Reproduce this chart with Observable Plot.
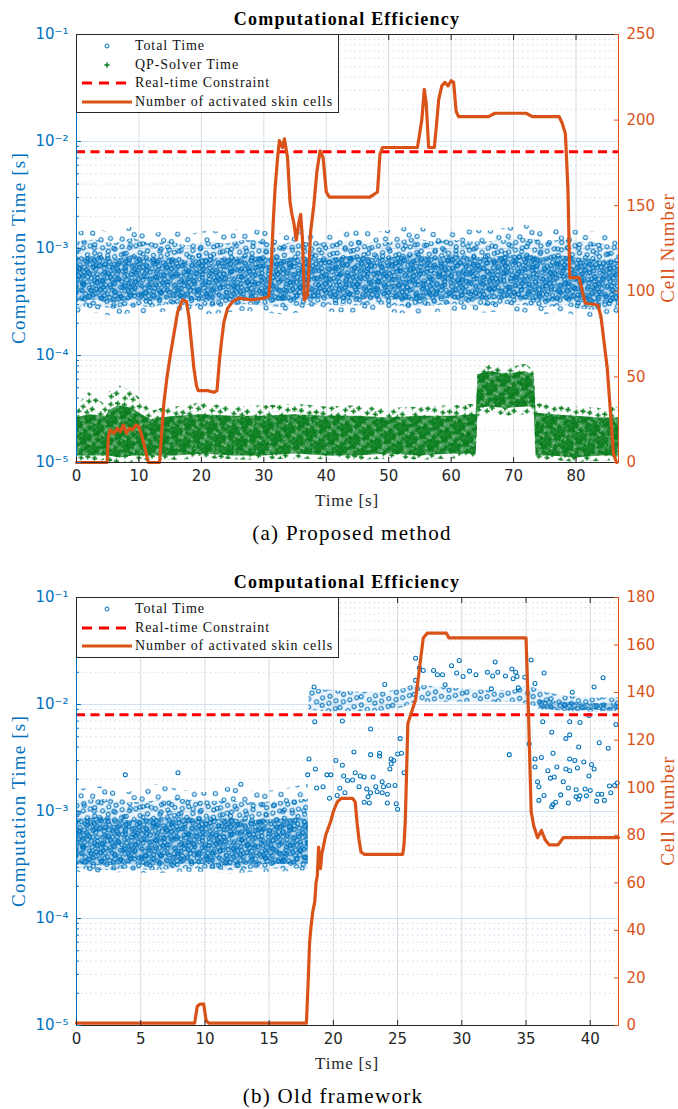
<!DOCTYPE html>
<html><head><meta charset="utf-8">
<script src="https://cdn.jsdelivr.net/npm/d3@7"></script>
<script src="https://cdn.jsdelivr.net/npm/@observablehq/plot@0.6"></script>
<style>
body{margin:0;background:#fff;}
#wrap{position:relative;width:678px;height:1109px;overflow:hidden;font-family:"Liberation Serif","Times New Roman",serif;}
.abs{position:absolute;white-space:nowrap;line-height:1;}
.legend{position:absolute;border:1px solid #262626;background:#fff;box-sizing:border-box;}
.row{position:absolute;left:0;height:18px;width:100%;}
.row svg{position:absolute;left:3px;top:0;}
.row span{position:absolute;left:58px;top:1px;font-size:14px;letter-spacing:0.9px;color:#111;line-height:16px;}
.panel{position:absolute;left:0;}
</style>
</head><body>
<svg width="0" height="0" style="position:absolute">
<defs>
<path id="gplus" d="M-2.6,-0.8h1.8v-1.8h1.6v1.8h1.8v1.6h-1.8v1.8h-1.6v-1.8h-1.8z"/>
<circle id="bc" r="2" fill="none" stroke="#0072BD" stroke-width="1.05"/>
<pattern id="bSparse" width="30" height="26" patternUnits="userSpaceOnUse" patternTransform="rotate(11)">
 <use href="#bc" x="4" y="5"/><use href="#bc" x="15.5" y="3.2"/><use href="#bc" x="25" y="8"/><use href="#bc" x="9" y="14"/><use href="#bc" x="20" y="17.5"/><use href="#bc" x="4.5" y="22.5"/><use href="#bc" x="26.5" y="22.8"/></pattern>
<pattern id="bMid" width="24" height="22" patternUnits="userSpaceOnUse" patternTransform="rotate(-27)">
 <rect width="24" height="22" fill="#0072BD" fill-opacity="0.08"/>
 <use href="#bc" x="3" y="3.4"/><use href="#bc" x="10.2" y="2.8"/><use href="#bc" x="17.5" y="4.6"/><use href="#bc" x="6.4" y="9.1"/><use href="#bc" x="13.4" y="10.3"/><use href="#bc" x="20.8" y="11.2"/><use href="#bc" x="2.9" y="15.4"/><use href="#bc" x="9.6" y="16.8"/><use href="#bc" x="16.7" y="17.9"/><use href="#bc" x="21.3" y="19.1"/></pattern>
<pattern id="bDense" width="22" height="20" patternUnits="userSpaceOnUse" patternTransform="rotate(37)">
 <rect width="22" height="20" fill="#0072BD" fill-opacity="0.22"/>
 <use href="#bc" x="3" y="3.2"/><use href="#bc" x="8.2" y="2.6"/><use href="#bc" x="13.8" y="4.1"/><use href="#bc" x="19.1" y="2.9"/><use href="#bc" x="5.9" y="7.4"/><use href="#bc" x="10.7" y="6.9"/><use href="#bc" x="16.6" y="8.3"/><use href="#bc" x="2.7" y="11.6"/><use href="#bc" x="8.3" y="12.8"/><use href="#bc" x="12.9" y="11.4"/><use href="#bc" x="19.2" y="12.7"/><use href="#bc" x="5.2" y="16.9"/><use href="#bc" x="10.9" y="17.3"/><use href="#bc" x="15.8" y="15.9"/><use href="#bc" x="18.7" y="17.4"/></pattern>
<pattern id="gSparse" width="22" height="19" patternUnits="userSpaceOnUse" patternTransform="rotate(8)">
 <g fill="#0A7D1E"><use href="#gplus" x="3.5" y="3.6"/><use href="#gplus" x="12" y="5"/><use href="#gplus" x="18.6" y="3.1"/><use href="#gplus" x="7" y="11"/><use href="#gplus" x="16.2" y="12.4"/><use href="#gplus" x="3.2" y="16"/><use href="#gplus" x="11.4" y="16.2"/></g></pattern>
<pattern id="gDense" width="16" height="15" patternUnits="userSpaceOnUse" patternTransform="rotate(-33)">
 <rect width="16" height="15" fill="#0A7D1E" fill-opacity="0.72"/>
 <g fill="#0A7D1E"><use href="#gplus" x="3" y="3"/><use href="#gplus" x="7.6" y="2.8"/><use href="#gplus" x="12.8" y="3.6"/><use href="#gplus" x="5" y="6.9"/><use href="#gplus" x="10" y="6.3"/><use href="#gplus" x="13.2" y="8.6"/><use href="#gplus" x="2.9" y="10.6"/><use href="#gplus" x="7.7" y="9.9"/><use href="#gplus" x="11.1" y="11.7"/><use href="#gplus" x="5.6" y="12.4"/></g>
 <g fill="#ffffff" fill-opacity="0.75"><rect x="9.3" y="1" width="1.2" height="1.2"/><rect x="1.2" y="7.5" width="1.1" height="1.1"/><rect x="14.2" y="12.6" width="1.2" height="1.2"/><rect x="8.4" y="13.6" width="1" height="1"/></g></pattern>
</defs></svg>
<div id="wrap"></div>
<script>
// ---------------- data: panel (a) Proposed method ----------------
const xTicksA = [0,10,20,30,40,50,60,70,80];
const xMaxA = 86.8;
const cellMaxA = 250;
const cellTicksA = [0,50,100,150,200,250];
const cellTimeA = [0,4.9,5.1,5.4,6,6.5,7,7.5,8,8.5,9,9.5,10,10.5,11,11.5,13.3,13.6,14,14.5,15,15.6,16.2,17,17.6,18,18.4,18.8,19.2,19.5,21,22,22.5,22.9,23.2,23.6,24.2,25,26,28,30,30.8,31.2,31.5,31.8,32.2,32.5,33,33.3,33.8,34.2,34.5,34.8,35.2,35.6,35.9,36.2,36.5,37,37.5,38,38.5,39,39.5,40,40.5,44,47,48.2,48.6,49,52,54.6,55.3,55.7,56,56.4,57.3,57.6,58,58.5,59,59.5,60,60.4,60.8,61.2,66,67,72,73,77.3,77.8,78.3,78.7,79,80.5,81,81.5,83.5,84,84.5,85,85.5,86,86.5];
const cellsA    = [0,0,15,19,17,20,18,22,17,20,19,22,21,15,8,0,0,15,35,50,62,75,88,95,94,85,70,55,45,42,42,41,42,60,70,82,90,94,96,95,96,97,115,140,160,178,188,184,189,178,152,145,140,130,140,145,130,95,98,135,150,170,182,178,158,155,155,155,158,180,184,184,184,200,218,210,184,184,195,212,220,222,220,223,222,205,202,202,204,204,202,202,198,192,160,108,108,100,93,92,85,70,55,30,5,0];
// Total Time cloud envelopes
const blueTimeA    = [0,3,6,9,12,15,18,21,24,27,30,33,36,39,42,45,48,51,54,57,60,63,66,69,72,75,78,81,84,86.8];
const blueOuterHiA = [1.4e-3,1.55e-3,1.35e-3,1.6e-3,1.35e-3,1.5e-3,1.35e-3,1.45e-3,1.4e-3,1.55e-3,1.45e-3,1.35e-3,1.5e-3,1.4e-3,1.45e-3,1.55e-3,1.4e-3,1.5e-3,1.65e-3,1.45e-3,1.55e-3,1.5e-3,1.45e-3,1.55e-3,1.65e-3,1.5e-3,1.55e-3,1.45e-3,1.4e-3,1.35e-3];
const blueOuterLoA = [2.4e-4,2.5e-4,2.3e-4,2.5e-4,2.4e-4,2.6e-4,2.5e-4,2.4e-4,2.5e-4,2.6e-4,2.5e-4,2.4e-4,2.5e-4,2.6e-4,2.5e-4,2.5e-4,2.6e-4,2.5e-4,2.4e-4,2.5e-4,2.6e-4,2.5e-4,2.5e-4,2.6e-4,2.5e-4,2.4e-4,2.5e-4,2.3e-4,2.2e-4,2.4e-4];
const blueCoreHiA  = [1.15e-3,1.2e-3,1.1e-3,1.25e-3,1.1e-3,1.15e-3,1.05e-3,1.15e-3,1.1e-3,1.2e-3,1.15e-3,1.1e-3,1.15e-3,1.1e-3,1.15e-3,1.2e-3,1.1e-3,1.15e-3,1.25e-3,1.15e-3,1.2e-3,1.15e-3,1.15e-3,1.2e-3,1.25e-3,1.15e-3,1.2e-3,1.15e-3,1.1e-3,1.05e-3];
const blueCoreLoA  = [2.8e-4,2.9e-4,2.7e-4,2.9e-4,2.8e-4,3.0e-4,2.9e-4,2.8e-4,2.9e-4,3.0e-4,2.9e-4,2.8e-4,2.9e-4,3.0e-4,2.9e-4,2.9e-4,3.0e-4,2.9e-4,2.8e-4,2.9e-4,3.0e-4,2.9e-4,2.9e-4,3.0e-4,2.9e-4,2.8e-4,2.9e-4,2.7e-4,2.6e-4,2.8e-4];
const blueInnerHiA = [8.0e-4,8.5e-4,7.8e-4,8.6e-4,8.0e-4,8.2e-4,7.6e-4,8.2e-4,8.0e-4,8.5e-4,8.2e-4,7.9e-4,8.3e-4,8.0e-4,8.2e-4,8.6e-4,8.0e-4,8.3e-4,8.8e-4,8.2e-4,8.6e-4,8.3e-4,8.2e-4,8.6e-4,8.8e-4,8.2e-4,8.5e-4,8.0e-4,7.8e-4,7.6e-4];
const blueInnerLoA = [3.2e-4,3.3e-4,3.1e-4,3.3e-4,3.2e-4,3.4e-4,3.3e-4,3.2e-4,3.3e-4,3.4e-4,3.3e-4,3.2e-4,3.3e-4,3.4e-4,3.3e-4,3.3e-4,3.4e-4,3.3e-4,3.2e-4,3.3e-4,3.4e-4,3.3e-4,3.3e-4,3.4e-4,3.3e-4,3.2e-4,3.3e-4,3.1e-4,3.0e-4,3.2e-4];
// QP-Solver Time cloud envelopes
const greenTimeA    = [0,2,4.8,5.2,7,9,10.5,12,13.5,16,20,25,30,35,40,45,50,55,60,64.0,64.3,66,69,72,73.3,73.6,76,80,84,86.8];
const greenOuterHiA = [3.3e-5,4.5e-5,3.4e-5,4.5e-5,5.2e-5,4.6e-5,3.8e-5,3.0e-5,3.2e-5,3.3e-5,3.6e-5,3.3e-5,3.4e-5,3.5e-5,3.3e-5,3.4e-5,3.2e-5,3.3e-5,3.4e-5,3.5e-5,7.5e-5,8.2e-5,7.6e-5,8.3e-5,7.2e-5,3.6e-5,3.4e-5,3.3e-5,3.2e-5,3.3e-5];
const greenOuterLoA = [1.05e-5,1.0e-5,1.05e-5,1.0e-5,1.0e-5,1.0e-5,1.0e-5,1.05e-5,1.05e-5,1.05e-5,1.08e-5,1.06e-5,1.05e-5,1.08e-5,1.06e-5,1.05e-5,1.07e-5,1.05e-5,1.08e-5,1.1e-5,2.7e-5,2.8e-5,2.7e-5,2.8e-5,2.8e-5,1.05e-5,1.05e-5,1.0e-5,1.02e-5,1.05e-5];
const greenCoreHiA  = [2.6e-5,2.8e-5,2.7e-5,3.1e-5,3.4e-5,3.2e-5,2.8e-5,2.5e-5,2.6e-5,2.7e-5,2.8e-5,2.7e-5,2.7e-5,2.8e-5,2.7e-5,2.7e-5,2.6e-5,2.7e-5,2.7e-5,2.8e-5,6.6e-5,7.1e-5,6.7e-5,7.1e-5,6.4e-5,2.9e-5,2.8e-5,2.7e-5,2.6e-5,2.6e-5];
const greenCoreLoA  = [1.15e-5,1.15e-5,1.15e-5,1.15e-5,1.1e-5,1.15e-5,1.15e-5,1.15e-5,1.15e-5,1.15e-5,1.2e-5,1.15e-5,1.15e-5,1.2e-5,1.15e-5,1.15e-5,1.2e-5,1.15e-5,1.2e-5,1.2e-5,3.2e-5,3.3e-5,3.2e-5,3.3e-5,3.3e-5,1.15e-5,1.15e-5,1.1e-5,1.15e-5,1.15e-5];

// ---------------- data: panel (b) Old framework ----------------
const xTicksB = [0,5,10,15,20,25,30,35,40];
const xMaxB = 42.2;
const cellMaxB = 180;
const cellTicksB = [0,20,40,60,80,100,120,140,160,180];
const cellTimeB = [0,9.2,9.4,9.6,9.9,10.1,10.3,17.9,18.05,18.15,18.25,18.4,18.55,18.65,18.75,18.85,19.0,19.1,19.4,19.8,20.0,20.3,20.6,21.5,21.7,21.85,22.0,22.15,22.4,25.4,25.5,25.6,25.8,26.4,26.7,27.0,27.3,28.8,29.0,35.0,35.2,35.4,35.6,35.9,36.2,36.5,36.8,37.5,37.9,42.2];
const cellsB    = [1,1,8,9,9,2,1,1,20,35,41,48,52,60,63,75,66,72,80,86,90,94,95.5,95.5,94,85,78,73,72,72,76,86,127,137,150,163,165,165,163,163,130,90,84,79,82,78,76,76,79,79];
const blueTimeB1    = [0,2,4,6,8,10,12,14,16,18.05];
const blueOuterHiB1 = [1.6e-3,1.7e-3,1.5e-3,1.8e-3,1.6e-3,1.5e-3,1.7e-3,1.5e-3,1.6e-3,1.8e-3];
const blueOuterLoB1 = [2.7e-4,2.6e-4,2.7e-4,2.6e-4,2.7e-4,2.7e-4,2.6e-4,2.7e-4,2.7e-4,2.8e-4];
const blueCoreHiB1  = [1.25e-3,1.3e-3,1.2e-3,1.25e-3,1.3e-3,1.25e-3,1.25e-3,1.2e-3,1.25e-3,1.3e-3];
const blueCoreLoB1  = [2.9e-4,2.8e-4,2.9e-4,2.8e-4,2.9e-4,2.9e-4,2.8e-4,2.9e-4,2.9e-4,2.9e-4];
const blueInnerHiB1 = [8.5e-4,8.8e-4,8.2e-4,8.6e-4,8.8e-4,8.4e-4,8.6e-4,8.2e-4,8.5e-4,8.7e-4];
const blueInnerLoB1 = [3.2e-4,3.1e-4,3.2e-4,3.1e-4,3.2e-4,3.2e-4,3.1e-4,3.2e-4,3.2e-4,3.2e-4];
const blueTimeB2 = [18.1,20,22,24,25.5,26.3,28,30,32,34,35.2,36.5,38,40,42.2];
const blueLoB2   = [8.8e-3,8.5e-3,8.6e-3,8.7e-3,9.3e-3,1.05e-2,1.05e-2,1.05e-2,1.05e-2,1.05e-2,1.0e-2,9.0e-3,8.6e-3,8.5e-3,8.6e-3];
const blueHiB2   = [1.4e-2,1.35e-2,1.3e-2,1.3e-2,1.4e-2,1.55e-2,1.45e-2,1.4e-2,1.35e-2,1.35e-2,1.5e-2,1.3e-2,1.2e-2,1.15e-2,1.15e-2];
const blueTimeB3 = [36,38,40,42.2];
const blueLoB3   = [9.0e-3,8.8e-3,8.8e-3,8.9e-3];
const blueHiB3   = [1.1e-2,1.05e-2,1.02e-2,1.02e-2];
// individually readable Total Time points (panel b)
const looseTimeB = [3.8,7.9,12.8,
 18.55,20.7,22.9,25.2,21.6,22.9,23.6,23.6,24.5,25.0,25.3,18.1,20.2,20.7,18.6,19.5,19.8,18.0,20.8,21.7,22.1,22.4,23.1,23.8,24.4,24.5,24.7,25.5,21.1,21.5,22.0,22.6,23.3,23.9,24.3,24.8,20.5,18.7,19.2,20.3,20.9,22.9,23.4,23.8,24.2,22.7,22.4,22.8,24.2,24.9,25.0,19.7,
 26.4,26.7,27.0,27.8,28.1,28.5,29.2,29.6,28.7,26.4,24.0,18.5,
 29.8,32.6,33.9,35.4,30.6,31.1,32.0,32.4,32.8,33.4,34.2,34.3,34.9,36.4,32.3,34.4,41.0,30.1,34.0,35.7,40.3,38.6,
 36.3,35.25,37.0,38.4,38.1,39.1,40.7,41.4,38.4,39.2,39.9,37.1,36.2,35.7,33.7,38.4,38.8,39.5,40.1,35.7,37.4,38.1,38.4,39.0,40.3,36.7,39.9,36.9,37.2,35.9,37.9,36.0,38.3,38.9,39.6,40.0,41.5,41.9,36.4,37.7,38.9,39.2,39.7,40.6,40.9,41.6,36.0,37.1,37.3,38.3,39.1,40.5,41.1,37.0,42.1,42.0];
const looseValB = [2.2e-3,2.3e-3,1.8e-3,
 6.9e-3,7.0e-3,5.9e-3,4.8e-3,3.6e-3,3.4e-3,3.5e-3,3.3e-3,3.1e-3,3.45e-3,3.5e-3,3.1e-3,3.0e-3,2.7e-3,2.5e-3,2.2e-3,2.2e-3,2.2e-3,2.15e-3,2.3e-3,2.15e-3,2.1e-3,2.1e-3,1.9e-3,2.5e-3,2.8e-3,3.0e-3,2.3e-3,1.95e-3,1.97e-3,1.7e-3,1.62e-3,1.7e-3,1.7e-3,1.75e-3,1.75e-3,1.65e-3,1.66e-3,1.7e-3,1.41e-3,1.5e-3,1.5e-3,1.53e-3,1.5e-3,1.45e-3,1.37e-3,1.22e-3,1.2e-3,1.2e-3,1.18e-3,1.05e-3,1.33e-3,
 2.7e-2,2.2e-2,2.08e-2,2.08e-2,1.9e-2,1.9e-2,2.3e-2,1.97e-2,1.53e-2,1.68e-2,1.54e-2,1.46e-2,
 2.58e-2,2.5e-2,2.15e-2,2.6e-2,2.05e-2,1.9e-2,2.0e-2,1.85e-2,2.0e-2,1.85e-2,2.0e-2,1.83e-2,1.8e-2,1.97e-2,1.4e-2,1.43e-2,1.78e-2,1.83e-2,1.74e-2,1.57e-2,1.46e-2,1.3e-2,
 6.9e-3,4.3e-3,5.5e-3,5.2e-3,4.8e-3,4.0e-3,4.4e-3,3.9e-3,6.9e-3,6.8e-3,7.9e-3,3.5e-3,3.2e-3,3.1e-3,3.4e-3,3.1e-3,3.0e-3,2.9e-3,2.75e-3,2.6e-3,2.6e-3,2.5e-3,2.4e-3,2.55e-3,2.5e-3,2.4e-3,2.15e-3,2.05e-3,2.1e-3,1.9e-3,1.9e-3,1.7e-3,1.66e-3,1.6e-3,1.62e-3,1.57e-3,1.73e-3,1.75e-3,1.41e-3,1.43e-3,1.37e-3,1.4e-3,1.4e-3,1.45e-3,1.45e-3,1.5e-3,1.27e-3,1.16e-3,1.22e-3,1.2e-3,1.3e-3,1.25e-3,1.27e-3,1.11e-3,1.85e-3,6.5e-3];

const decades = [1e-5,1e-4,1e-3,1e-2,1e-1];
const constraint = 8e-3;
const BLUE="#0072BD", ORANGE="#D95319", RED="#FF0000", INK="#262626";

const sup = {"-1":"⁻¹","-2":"⁻²","-3":"⁻³","-4":"⁻⁴","-5":"⁻⁵"};
const minor = [];
for (const d of decades.slice(0,-1)) for (let m=2;m<=9;m++) minor.push(m*d);

const zip = (t,lo,hi) => t.map((d,i)=>({t:d, lo:lo[i], hi:hi[i]}));
const cloud = (t,lo,hi,pat) => Plot.areaY(zip(t,lo,hi), {x:"t", y1:"lo", y2:"hi", fill:`url(#${pat})`, clip:true});

function panel(cfg){
  const cmap = c => Math.pow(10, -5 + 4*c/cfg.cmax);
  const cells = cfg.cellT.map((t,i)=>({t, c:cfg.cells[i]}));
  const cellTicks = cfg.cticks.map(c=>({c, y:cmap(c)}));
  return Plot.plot({
    width:678, height:520, marginLeft:76, marginRight:60, marginTop:34, marginBottom:58,
    x:{domain:[0,cfg.xmax], label:null},
    y:{type:"log", domain:[1e-5,1e-1], label:null},
    style:{fontFamily:"DejaVu Sans", fontSize:"15px", overflow:"visible", background:"transparent"},
    marks:[
      Plot.gridX(cfg.xticks, {stroke:"#dcdcdc", strokeOpacity:1}),
      Plot.gridY(minor, {stroke:"#bcd5eb", strokeOpacity:1, strokeDasharray:"1.2,3.6"}),
      Plot.gridY(decades.slice(1,-1), {stroke:"#d2e2f0", strokeOpacity:1}),
      ...cfg.clouds,
      ...cfg.dots,
      Plot.ruleY([constraint], {stroke:RED, strokeWidth:3, strokeDasharray:"9,5.5"}),
      Plot.line(cells, {x:"t", y:d=>cmap(d.c), stroke:ORANGE, strokeWidth:3.2, strokeLinejoin:"round"}),
      Plot.ruleY([1e-1], {stroke:INK}),
      Plot.ruleY([1e-5], {stroke:INK}),
      Plot.ruleX([0], {stroke:BLUE}),
      Plot.ruleX([cfg.xmax], {stroke:ORANGE}),
      Plot.axisX(cfg.xticks, {anchor:"bottom", tickSize:-5, tickPadding:13, color:INK, label:null}),
      Plot.axisX(cfg.xticks, {anchor:"top", tickSize:-5, tickFormat:()=>"", color:INK, label:null}),
      Plot.axisY(decades, {anchor:"left", tickSize:-5, tickPadding:13, color:BLUE, label:null,
        text:d=>"10"+sup[String(Math.round(Math.log10(d)))]}),
      Plot.axisY(minor, {anchor:"left", tickSize:-3, text:()=>"", color:BLUE, label:null}),
      Plot.axisY(cellTicks, {y:"y", anchor:"right", tickSize:-5, tickPadding:13, color:ORANGE, label:null,
        text:d=>String(d.c)})
    ]
  });
}

const wrap = document.getElementById("wrap");
function put(el, top){ const d=document.createElement("div"); d.className="panel"; d.style.top=top+"px"; d.appendChild(el); wrap.appendChild(d); }
function text(str, x, y, css, rot){
  const d=document.createElement("div"); d.className="abs"; d.textContent=str;
  d.style.left=x+"px"; d.style.top=y+"px";
  d.style.transform="translate(-50%,-50%)"+(rot?" rotate(-90deg)":"");
  Object.assign(d.style, css); wrap.appendChild(d);
}
function legend(top, rows){
  const box=document.createElement("div"); box.className="legend";
  box.style.left="76px"; box.style.top=top+"px"; box.style.width="263px"; box.style.height=(rows.length*18.5+5)+"px";
  rows.forEach((r,i)=>{
    const row=document.createElement("div"); row.className="row"; row.style.top=(2+i*18.5)+"px";
    let sw="";
    if(r.kind==="circle") sw=`<circle cx="27" cy="9" r="2" fill="none" stroke="${BLUE}" stroke-width="1"/>`;
    if(r.kind==="plus") sw=`<use href="#gplus" x="27" y="9" fill="#0A7D1E"/>`;
    if(r.kind==="dash") sw=`<line x1="2" y1="9" x2="52" y2="9" stroke="${RED}" stroke-width="3" stroke-dasharray="10,7"/>`;
    if(r.kind==="line") sw=`<line x1="2" y1="9" x2="52" y2="9" stroke="${ORANGE}" stroke-width="3"/>`;
    row.innerHTML=`<svg width="56" height="18">${sw}</svg><span>${r.label}</span>`;
    box.appendChild(row);
  });
  wrap.appendChild(box);
}

const titleCss={fontWeight:"bold", fontSize:"18px", letterSpacing:"1.2px", color:"#000"};
const ylabCss={fontSize:"19px", letterSpacing:"1.2px", color:BLUE};
const y2labCss={fontSize:"19px", letterSpacing:"1px", color:ORANGE};
const xlabCss={fontSize:"17px", letterSpacing:"0.8px", color:INK};
const capCss={fontSize:"21px", letterSpacing:"1.3px", color:"#000"};

// Panel (a)
put(panel({
  xmax:xMaxA, xticks:xTicksA, cmax:cellMaxA, cticks:cellTicksA, cellT:cellTimeA, cells:cellsA,
  clouds:[
    cloud(blueTimeA, blueOuterLoA, blueOuterHiA, "bSparse"),
    cloud(blueTimeA, blueCoreLoA, blueCoreHiA, "bMid"),
    cloud(blueTimeA, blueInnerLoA, blueInnerHiA, "bDense"),
    cloud(greenTimeA, greenOuterLoA, greenOuterHiA, "gSparse"),
    cloud(greenTimeA, greenCoreLoA, greenCoreHiA, "gDense")
  ],
  dots:[]
}), 0);
text("Computational Efficiency", 347, 19, titleCss);
text("Computation Time [s]", 18, 248, ylabCss, true);
text("Cell Number", 667, 248, y2labCss, true);
text("Time [s]", 347, 500, xlabCss);
text("(a) Proposed method", 352, 533, capCss);
legend(34, [
  {kind:"circle", label:"Total Time"},
  {kind:"plus", label:"QP-Solver Time"},
  {kind:"dash", label:"Real-time Constraint"},
  {kind:"line", label:"Number of activated skin cells"}
]);

// Panel (b)
const looseB = looseTimeB.map((t,i)=>({t, v:looseValB[i]}));
put(panel({
  xmax:xMaxB, xticks:xTicksB, cmax:cellMaxB, cticks:cellTicksB, cellT:cellTimeB, cells:cellsB,
  clouds:[
    cloud(blueTimeB1, blueOuterLoB1, blueOuterHiB1, "bSparse"),
    cloud(blueTimeB1, blueCoreLoB1, blueCoreHiB1, "bMid"),
    cloud(blueTimeB1, blueInnerLoB1, blueInnerHiB1, "bDense"),
    cloud(blueTimeB2, blueLoB2, blueHiB2, "bMid"),
    cloud(blueTimeB3, blueLoB3, blueHiB3, "bDense")
  ],
  dots:[Plot.dot(looseB, {x:"t", y:"v", r:2, stroke:BLUE, strokeWidth:1.05, fill:"none"})]
}), 563);
text("Computational Efficiency", 347, 582, titleCss);
text("Computation Time [s]", 18, 811, ylabCss, true);
text("Cell Number", 667, 811, y2labCss, true);
text("Time [s]", 347, 1063, xlabCss);
text("(b) Old framework", 333, 1096, capCss);
legend(597, [
  {kind:"circle", label:"Total Time"},
  {kind:"dash", label:"Real-time Constraint"},
  {kind:"line", label:"Number of activated skin cells"}
]);
</script>
</body></html>
